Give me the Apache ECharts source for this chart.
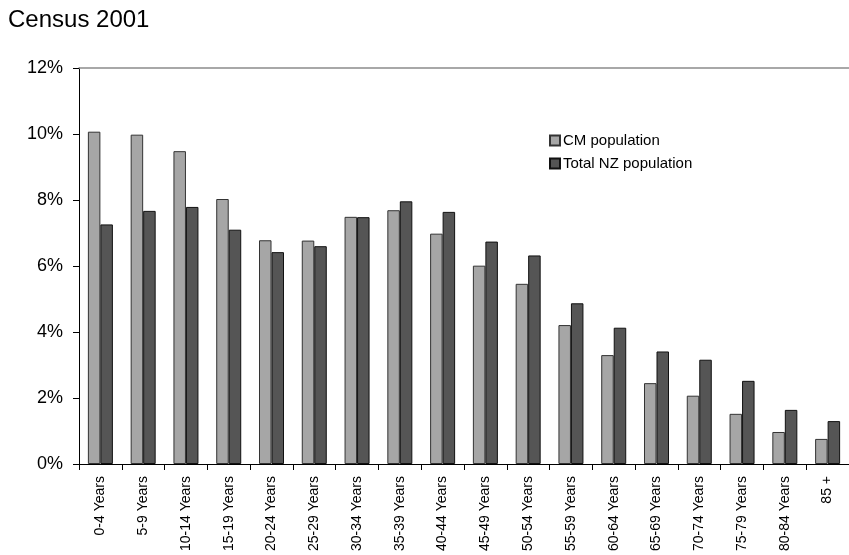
<!DOCTYPE html>
<html>
<head>
<meta charset="utf-8">
<script src="https://cdn.jsdelivr.net/npm/echarts@6/dist/echarts.min.js"></script>
<style>
  html, body { margin: 0; padding: 0; background: #fff; }
  #chart { width: 849px; height: 555px; }
</style>
</head>
<body>
<div id="chart"></div>
<script>
// Age groups, Census 2001
var ageGroups = ['0-4 Years', '5-9 Years', '10-14 Years', '15-19 Years', '20-24 Years',
  '25-29 Years', '30-34 Years', '35-39 Years', '40-44 Years', '45-49 Years', '50-54 Years',
  '55-59 Years', '60-64 Years', '65-69 Years', '70-74 Years', '75-79 Years', '80-84 Years', '85 +'];

// Share of each population in the age group (%)
var cmPopulation = [10.07, 9.98, 9.48, 8.03, 6.78, 6.77, 7.49, 7.69, 6.98, 6.01, 5.46,
  4.21, 3.30, 2.45, 2.07, 1.52, 0.97, 0.76];
var nzPopulation = [7.26, 7.67, 7.79, 7.10, 6.42, 6.60, 7.48, 7.96, 7.64, 6.74, 6.32,
  4.87, 4.13, 3.41, 3.16, 2.52, 1.64, 1.30];

var yTicks = { min: 0, max: 12, interval: 2 };

var chart = echarts.init(document.getElementById('chart'), null, { renderer: 'canvas' });

chart.setOption({
  animation: false,
  backgroundColor: '#ffffff',
  textStyle: { fontFamily: 'Liberation Sans, Arial, sans-serif' },
  title: {
    text: 'Census 2001',
    left: 8,
    top: 8,
    padding: 0,
    textStyle: { fontSize: 24, fontWeight: 'normal', color: '#000' }
  },
  legend: {
    orient: 'vertical',
    left: 544,
    top: 128,
    itemWidth: 10,
    itemHeight: 10,
    itemGap: 8,
    icon: 'rect',
    textStyle: { fontSize: 15, color: '#000', padding: [0, 0, 0, -2] },
    data: ['CM population', 'Total NZ population']
  },
  grid: { left: 79, top: 68, width: 784, bottom: 91, containLabel: false },
  xAxis: [{
    type: 'category',
    data: ageGroups,
    boundaryGap: true,
    axisLine: { lineStyle: { color: '#000', width: 1 } },
    axisTick: { show: true, length: 6, inside: false, alignWithLabel: false, lineStyle: { color: '#000' } },
    axisLabel: { rotate: 90, fontSize: 14, color: '#000', margin: 12, interval: 0 }
  }, {
    type: 'category',
    data: ageGroups,
    position: 'top',
    axisLine: { lineStyle: { color: '#8c8c8c', width: 1.5 } },
    axisTick: { show: false },
    axisLabel: { show: false }
  }],
  yAxis: {
    type: 'value',
    min: yTicks.min,
    max: yTicks.max,
    interval: yTicks.interval,
    axisLine: { show: true, lineStyle: { color: '#000', width: 1 } },
    axisTick: { show: true, length: 6, inside: false, lineStyle: { color: '#000' } },
    splitLine: { show: false },
    axisLabel: { formatter: '{value}%', fontSize: 18, color: '#000', margin: 16 }
  },
  series: [{
    name: 'CM population',
    type: 'bar',
    data: cmPopulation,
    barWidth: 12.5,
    barGap: '0%',
    itemStyle: { color: '#a6a6a6', borderColor: '#333333', borderWidth: 1 }
  }, {
    name: 'Total NZ population',
    type: 'bar',
    data: nzPopulation,
    barWidth: 12.5,
    barGap: '0%',
    itemStyle: { color: '#555555', borderColor: '#111111', borderWidth: 1 }
  }]
});
</script>
</body>
</html>
